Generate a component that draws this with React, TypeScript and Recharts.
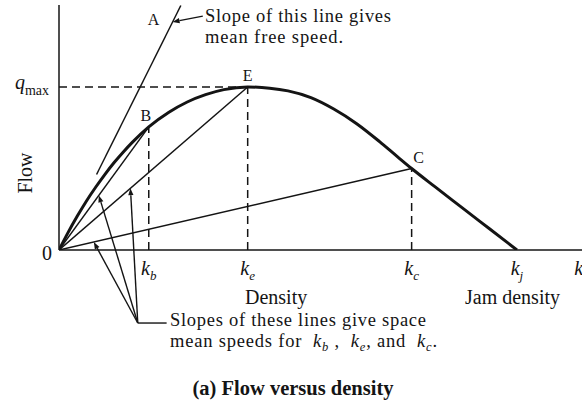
import React from "react";
import { ComposedChart, Line, XAxis, YAxis, ReferenceLine, ReferenceDot } from "recharts";

// ── Flow–density curve (density k, flow q; jam density = 100, qmax = 100) ──────
const K_CURVE = [0, 2, 4, 6, 8, 10, 12, 14, 16, 19.6, 24, 28, 32, 36, 41.2, 46, 50, 55, 60, 65, 70, 74, 77, 82, 88, 94, 100];
const Q_CURVE = [0, 10.8, 20.8, 30.1, 38.5, 46.3, 53.5, 60, 66, 75.5, 84.5, 90.8, 95.3, 98.4, 100, 99.3, 97.6, 93.5, 86.5, 77.5, 66.5, 57, 50, 39, 26, 13, 0];

// key points on the curve
const KB = 19.6, QB = 75.5;
const KE = 41.2, QE = 100;
const KC = 77, QC = 50;
const KJ = 100;

// free-flow tangent (line A), drawn from its lower end to the top of the plot
const K_FREE = [8.2, 26.6];
const Q_FREE = [46.3, 150];

// leader arrows pointing at the three chords
const LEADER_APEX = { k: 17.2, q: -44.8 };
const LEADER_TIPS = [
  { k: 8.7, q: 33.5 },
  { k: 15.6, q: 37.9 },
  { k: 7.6, q: 4.9 },
];
const LEADER_TAIL = { k: 23.5, q: -44.8 };
const FREE_NOTE = { from: { k: 31.4, q: 143.5 }, to: { k: 24.8, q: 139.9 } };

const K_TICKS = [KB, KE, KC, KJ, 113.5];
const K_SUBS = ["b", "e", "c", "j", ""];
const Q_TICKS = [0, QE];

const curve = K_CURVE.map((k, i) => ({ k, q: Q_CURVE[i] }));
const freeLine = K_FREE.map((k, i) => ({ k, q: Q_FREE[i] }));
const chord = (k: number, q: number) => [{ k: 0, q: 0 }, { k, q }];

const INK = "#141414";
const FONT = "'Liberation Serif', 'Times New Roman', serif";

function KTick({ x, y, index }: any) {
  const sub = K_SUBS[index] ?? "";
  return (
    <text x={x} y={y + 25} textAnchor="middle" fontFamily={FONT} fontSize={20} fontStyle="italic" fill={INK}>
      <tspan>k</tspan>
      {sub && <tspan fontSize={13} dy={5}>{sub}</tspan>}
    </text>
  );
}

function QTick({ x, y, payload }: any) {
  if (payload.value === 0) {
    return <text x={x - 12} y={y + 10} textAnchor="middle" fontFamily={FONT} fontSize={20} fill={INK}>0</text>;
  }
  return (
    <text x={x - 10} y={y + 2} textAnchor="end" fontFamily={FONT} fontSize={20} fill={INK}>
      <tspan fontStyle="italic">q</tspan>
      <tspan fontSize={14} dy={6}>max</tspan>
    </text>
  );
}

// segment with a filled arrowhead at its second end
function ArrowSegment(props: any) {
  const { x1, y1, x2, y2 } = props;
  const a = Math.atan2(y2 - y1, x2 - x1);
  const len = 7, half = 2.6;
  const bx = x2 - len * Math.cos(a), by = y2 - len * Math.sin(a);
  const px = -Math.sin(a) * half, py = Math.cos(a) * half;
  return (
    <g>
      <line x1={x1} y1={y1} x2={bx} y2={by} stroke={INK} strokeWidth={1.4} />
      <polygon points={`${x2},${y2} ${bx + px},${by + py} ${bx - px},${by - py}`} fill={INK} />
    </g>
  );
}

const tag = (text: string, dx: number, dy: number) => (p: any) => (
  <text x={p.cx + dx} y={p.cy + dy} textAnchor="middle" fontFamily={FONT} fontSize={16} fill={INK}>{text}</text>
);

const dash = { stroke: INK, strokeWidth: 1.5, strokeDasharray: "8 5" };

export default function App() {
  return (
    <div style={{ position: "absolute", left: 0, top: 0, width: 582, height: 403, background: "#fff" }}>
      <ComposedChart width={582} height={403} margin={{ top: 5, right: 0, left: 0, bottom: 123 }}>
        <XAxis
          type="number" dataKey="k" domain={[0, 114.2]} allowDataOverflow
          ticks={K_TICKS} interval={0} tick={<KTick />} tickLine={false} tickSize={0} tickMargin={0}
          axisLine={{ stroke: INK, strokeWidth: 1.5 }} height={30}
        />
        <YAxis
          type="number" domain={[0, 150.3]} allowDataOverflow
          ticks={Q_TICKS} interval={0} tick={<QTick />} tickLine={false} tickSize={0} tickMargin={0}
          axisLine={{ stroke: INK, strokeWidth: 1.5 }} width={59}
        />

        {/* dashed guides to kb, ke, kc and qmax */}
        <ReferenceLine segment={[{ x: KB, y: 0 }, { x: KB, y: QB }]} {...dash} />
        <ReferenceLine segment={[{ x: KE, y: 0 }, { x: KE, y: QE }]} {...dash} />
        <ReferenceLine segment={[{ x: KC, y: 0 }, { x: KC, y: QC }]} {...dash} />
        <ReferenceLine segment={[{ x: 0, y: QE }, { x: KE, y: QE }]} {...dash} />

        {/* chords from the origin: space mean speeds */}
        <Line data={chord(KB, QB)} dataKey="q" type="linear" stroke={INK} strokeWidth={1.5} dot={false} isAnimationActive={false} />
        <Line data={chord(KE, QE)} dataKey="q" type="linear" stroke={INK} strokeWidth={1.5} dot={false} isAnimationActive={false} />
        <Line data={chord(KC, QC)} dataKey="q" type="linear" stroke={INK} strokeWidth={1.5} dot={false} isAnimationActive={false} />

        {/* mean free speed */}
        <Line data={freeLine} dataKey="q" type="linear" stroke={INK} strokeWidth={1.5} dot={false} isAnimationActive={false} />

        {/* q-k curve */}
        <Line data={curve} dataKey="q" type="monotone" stroke={INK} strokeWidth={3} dot={false} isAnimationActive={false} />

        {/* leaders */}
        {LEADER_TIPS.map((t, i) => (
          <ReferenceLine key={i} ifOverflow="visible" segment={[{ x: LEADER_APEX.k, y: LEADER_APEX.q }, { x: t.k, y: t.q }]} shape={ArrowSegment} />
        ))}
        <ReferenceLine ifOverflow="visible" segment={[{ x: LEADER_APEX.k, y: LEADER_APEX.q }, { x: LEADER_TAIL.k, y: LEADER_TAIL.q }]} stroke={INK} strokeWidth={1.4} />
        <ReferenceLine ifOverflow="visible" segment={[{ x: FREE_NOTE.from.k, y: FREE_NOTE.from.q }, { x: FREE_NOTE.to.k, y: FREE_NOTE.to.q }]} shape={ArrowSegment} />

        {/* point letters */}
        <ReferenceDot x={25} y={141} r={0} ifOverflow="visible" shape={tag("A", -20, 5)} />
        <ReferenceDot x={KB} y={QB} r={0} ifOverflow="visible" shape={tag("B", -3, -6)} />
        <ReferenceDot x={KE} y={QE} r={0} ifOverflow="visible" shape={tag("E", 0, -6)} />
        <ReferenceDot x={KC} y={QC} r={0} ifOverflow="visible" shape={tag("C", 7, -5)} />
      </ComposedChart>

      <svg width={582} height={403} style={{ position: "absolute", left: 0, top: 0, pointerEvents: "none" }}
        fontFamily={FONT} fontSize={18.5} fill={INK}>
        <text x={205} y={22} textLength={186} lengthAdjust="spacing">Slope of this line gives</text>
        <text x={205} y={42.5} textLength={138} lengthAdjust="spacing">mean free speed.</text>
        <text transform="translate(32,173) rotate(-90)" textAnchor="middle" fontSize={20}>Flow</text>
        <text x={245} y={304} fontSize={20}>Density</text>
        <text x={465} y={304} fontSize={20}>Jam density</text>
        <text x={170} y={326} textLength={256} lengthAdjust="spacing">Slopes of these lines give space</text>
        <text x={170} y={346.5} textLength={267} lengthAdjust="spacing" style={{ whiteSpace: "pre" }}>
          <tspan>{"mean speeds for  "}</tspan>
          <tspan fontStyle="italic">k</tspan><tspan fontSize={12.5} dy={4} fontStyle="italic">b</tspan>
          <tspan dy={-4}>{" ,  "}</tspan>
          <tspan fontStyle="italic">k</tspan><tspan fontSize={12.5} dy={4} fontStyle="italic">e</tspan>
          <tspan dy={-4}>{", and  "}</tspan>
          <tspan fontStyle="italic">k</tspan><tspan fontSize={12.5} dy={4} fontStyle="italic">c</tspan>
          <tspan dy={-4}>.</tspan>
        </text>
        <text x={293} y={395} textAnchor="middle" fontWeight="bold" fontSize={20.5}>(a) Flow versus density</text>
      </svg>
    </div>
  );
}
